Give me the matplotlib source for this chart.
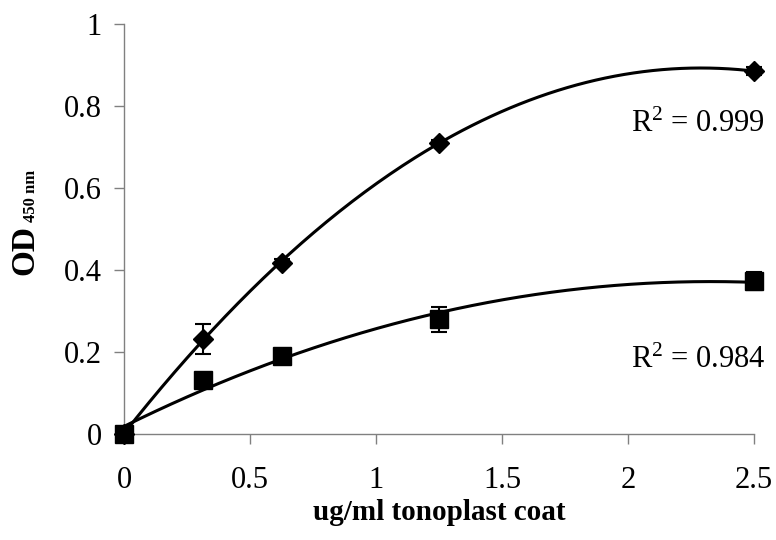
import numpy as np
import matplotlib
matplotlib.use("Agg")
import matplotlib.pyplot as plt
import matplotlib.transforms as mtransforms

plt.rcParams['font.family'] = ['Liberation Serif', 'DejaVu Serif']
plt.rcParams['mathtext.fontset'] = 'custom'
plt.rcParams['mathtext.rm'] = 'Liberation Serif'
plt.rcParams['mathtext.it'] = 'Liberation Serif:italic'
plt.rcParams['mathtext.bf'] = 'Liberation Serif:bold'

conc = [0, 0.3125, 0.625, 1.25, 2.5]
series_a = [0.0, 0.232, 0.418, 0.710, 0.885]
series_a_err = [0.0, 0.037, 0.008, 0.008, 0.010]
series_b = [0.0, 0.131, 0.190, 0.280, 0.373]
series_b_err = [0.0, 0.010, 0.008, 0.030, 0.022]
r2_labels = ['R$^2$ = 0.999', 'R$^2$ = 0.984']
xticks = [0, 0.5, 1, 1.5, 2, 2.5]
yticks = [0, 0.2, 0.4, 0.6, 0.8, 1]

W, H = 776, 540
fig = plt.figure(figsize=(W / 100, H / 100), dpi=100)
ax = fig.add_axes([124 / W, 1 - 434 / H, (754 - 124) / W, (434 - 24) / H])

xs = np.linspace(0, 2.5, 200)
for y in (series_a, series_b):
    c = np.polyfit(conc, y, 2)
    ax.plot(xs, np.polyval(c, xs), color='black', lw=2.2, clip_on=False, zorder=2)

ax.errorbar(conc, series_a, yerr=series_a_err, fmt='D', color='black', ms=10,
            capsize=6, elinewidth=1.5, capthick=1.5, clip_on=False, zorder=3)
ax.errorbar(conc, series_b, yerr=series_b_err, fmt='s', color='black', ms=13,
            capsize=6, elinewidth=1.5, capthick=1.5, clip_on=False, zorder=3)

off = mtransforms.offset_copy(ax.transData, fig=fig, x=8, y=0, units='points')
ax.text(2.5, 0.755, r2_labels[0], ha='right', va='center', fontsize=22, transform=off)
ax.text(2.5, 0.18, r2_labels[1], ha='right', va='center', fontsize=22, transform=off)

ax.set_xlim(0, 2.5)
ax.set_ylim(0, 1)
ax.set_xticks(xticks)
ax.set_xticklabels([f'{t:g}' for t in xticks])
ax.set_yticks(yticks)
ax.set_yticklabels([f'{t:g}' for t in yticks])
ax.tick_params(direction='out', length=7, width=1, color='#808080', labelsize=22)
ax.tick_params(axis='y', pad=9)
ax.tick_params(axis='x', pad=16)
for s in ('top', 'right'):
    ax.spines[s].set_visible(False)
for s in ('left', 'bottom'):
    ax.spines[s].set_color('#808080')
    ax.spines[s].set_linewidth(1)

ax.set_xlabel('ug/ml tonoplast coat', fontsize=21, fontweight='bold', labelpad=3)

# y-axis label "OD" with subscript "450 nm"
fig.text(25 / W, 1 - 250 / H, 'OD', rotation=90, fontsize=24, fontweight='bold',
         ha='center', va='center')
fig.text(31 / W, 1 - 196 / H, '450 nm', rotation=90, fontsize=12, fontweight='bold',
         ha='center', va='center')

fig.savefig('out.png', dpi=100)
